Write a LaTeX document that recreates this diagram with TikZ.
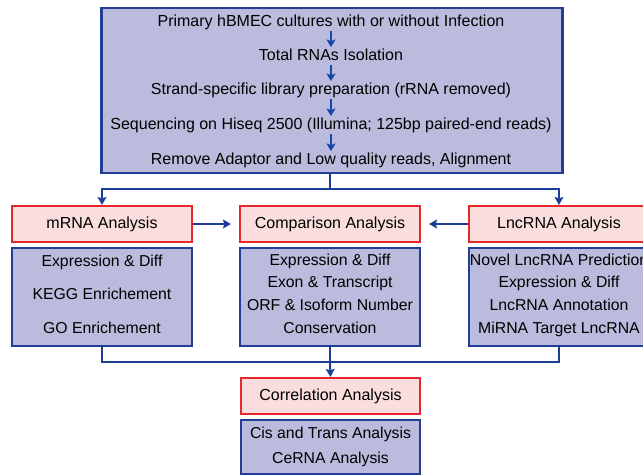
\documentclass[tikz,border=0pt]{standalone}
\usepackage{fontspec}
\setmainfont{Liberation Sans}
\usetikzlibrary{arrows.meta}
\definecolor{bfill}{RGB}{187,187,221}
\definecolor{bdraw}{RGB}{35,62,150}
\definecolor{rfill}{RGB}{250,221,221}
\definecolor{rdraw}{RGB}{228,40,44}
\definecolor{conncol}{RGB}{28,62,150}
\definecolor{arrcol}{RGB}{22,72,170}
\tikzset{
  bluebox/.style={draw=bdraw, fill=bfill, line width=2.2pt, minimum width=180pt, inner sep=0pt},
  redbox/.style={draw=rdraw, fill=rfill, line width=2.2pt, minimum width=180pt, minimum height=36pt, inner sep=0pt, font=\fontsize{16}{19}\selectfont},
  txt/.style={inner sep=0pt, text height=12pt, text depth=3.5pt, font=\fontsize{16}{19}\selectfont},
  stxt/.style={inner sep=0pt, text height=11.5pt, text depth=3pt, font=\fontsize{15.8}{18}\selectfont},
  conn/.style={draw=conncol, line width=2pt},
  arr/.style={conn, -{Stealth[length=8pt,width=9pt,inset=1.5pt]}},
  inarr/.style={draw=arrcol, line width=2pt, -{Stealth[length=7.5pt,width=9pt,inset=1.5pt]}, shorten <=1.5pt, shorten >=1pt},
}
\begin{document}
\begin{tikzpicture}[x=1pt,y=-1pt]
\useasboundingbox (0,0) rectangle (643,475);
\clip (0,0) rectangle (643,475);
% top box
\node[bluebox, minimum width=461pt, minimum height=165pt] (top) at (332,90.5) {};
\node[txt] (t1) at (331,22) {Primary hBMEC cultures with or without Infection};
\node[txt] (t2) at (331,56) {Total RNAs Isolation};
\node[txt] (t3) at (331,90) {Strand-specific library preparation (rRNA removed)};
\node[txt] (t4) at (331,125) {Sequencing on Hiseq 2500 (Illumina; 125bp paired-end reads)};
\node[txt] (t5) at (331,160) {Remove Adaptor and Low quality reads, Alignment};
\draw[inarr] (t1.south) -- (t2.north);
\draw[inarr] (t2.south) -- (t3.north);
\draw[inarr] (t3.south) -- (t4.north);
\draw[inarr] (t4.south) -- (t5.north);
% analysis headers
\node[redbox] (mred) at (102,224) {mRNA Analysis};
\node[redbox] (cred) at (330,224) {Comparison Analysis};
\node[redbox] (lred) at (559,224) {LncRNA Analysis};
% blue detail boxes
\node[bluebox, minimum height=98pt] (mblue) at (102,297) {};
\node[bluebox, minimum height=98pt] (cblue) at (330,297) {};
\node[bluebox, minimum height=98pt] (lblue) at (559,297) {};
\node[stxt] (m1) at (102,262) {Expression \& Diff};
\node[stxt] (m2) at (102,295) {KEGG Enrichement};
\node[stxt] (m3) at (102,329) {GO Enrichement};
\node[stxt] (c1) at (330,261) {Expression \& Diff};
\node[stxt] (c2) at (330,283) {Exon \& Transcript};
\node[stxt] (c3) at (330,306) {ORF \& Isoform Number};
\node[stxt] (c4) at (330,329) {Conservation};
\node[stxt] (l1) at (559,261) {Novel LncRNA Prediction};
\node[stxt] (l2) at (559,283) {Expression \& Diff};
\node[stxt] (l3) at (559,306) {LncRNA Annotation};
\node[stxt] (l4) at (559,329) {MiRNA Target LncRNA};
% correlation
\node[redbox, minimum width=179pt] (corr) at (330.5,396) {Correlation Analysis};
\node[bluebox, minimum width=179pt, minimum height=54pt] (corrb) at (330.5,447) {};
\node[stxt] (k1) at (330.5,434) {Cis and Trans Analysis};
\node[stxt] (k2) at (330.5,459) {CeRNA Analysis};
% connectors
\coordinate (j1) at (330,189);
\coordinate (j2) at (330,362);
\draw[conn] (top.south -| j1) -- (j1);
\draw[arr] (j1) -| (mred.north);
\draw[arr] (j1) -| (lred.north);
\draw[arr, shorten >=8pt] (mred.east) -- (cred.west);
\draw[arr, shorten >=8pt] (lred.west) -- (cred.east);
\draw[conn] (mblue.south) |- (j2) -| (lblue.south);
\draw[conn] (cblue.south) -- (j2);
\draw[arr] (j2) -- (corr.north);
\end{tikzpicture}
\end{document}
